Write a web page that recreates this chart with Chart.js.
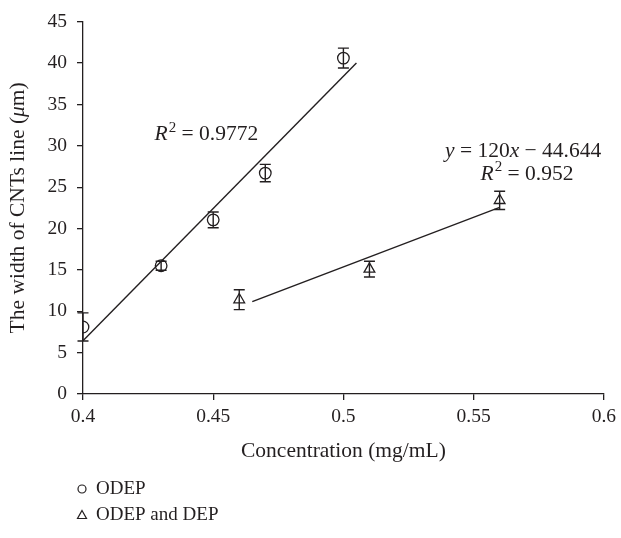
<!DOCTYPE html>
<html><head><meta charset="utf-8">
<script src="https://cdn.jsdelivr.net/npm/chart.js@4/dist/chart.umd.min.js"></script>
<style>html,body{margin:0;padding:0;background:#fff}canvas{display:block}</style>
</head><body>
<canvas id="c" width="621" height="538"></canvas>
<script>
// ---- data ----
const seriesNames = ['ODEP', 'ODEP and DEP'];
const odepX   = [0.40, 0.43, 0.45, 0.47, 0.50];
const odepY   = [8.1, 15.5, 21.05, 26.7, 40.6];
const odepErr = [1.7, 0.55, 0.95, 1.05, 1.2];
const bothX   = [0.46, 0.51, 0.56];
const bothY   = [11.4, 15.1, 23.4];
const bothErr = [1.2, 0.95, 1.1];
const trend1X = [0.40, 0.505];
const trend1Y = [6.43, 40.0];
const trend2X = [0.465, 0.56];
const trend2Y = [11.16, 22.56];
const xTicks  = [0.4, 0.45, 0.5, 0.55, 0.6];
const yTicks  = [0, 5, 10, 15, 20, 25, 30, 35, 40, 45];
const xTickLabels = ['0.4', '0.45', '0.5', '0.55', '0.6'];
const xTitle = 'Concentration (mg/mL)';

const INK = '#231f20';
const FONT = "'Liberation Serif', 'Times New Roman', serif";
const FS_TICK = 19.5;
const FS_TITLE = 21.5;
const FS_LEG = 19;

const pts = (xs, ys) => xs.map((x, i) => ({x, y: ys[i]}));

function richText(ctx, segs, x, y, align, fs) {
  const fnt = s => (s.it ? 'italic ' : '') + (s.sup ? Math.round(fs * 0.68) : fs) + 'px ' + FONT;
  const widths = segs.map(s => { ctx.font = fnt(s); return ctx.measureText(s.t).width + (s.sup ? 1 : 0); });
  const total = widths.reduce((a, b) => a + b, 0);
  let cx = align === 'center' ? x - total / 2 : x;
  segs.forEach((s, i) => {
    ctx.font = fnt(s);
    ctx.fillText(s.t, cx + (s.sup ? 1 : 0), s.sup ? y - fs * 0.3 : y);
    cx += widths[i];
  });
}

const errorBars = {
  id: 'errorBars',
  afterDatasetsDraw(chart) {
    const ctx = chart.ctx, xs = chart.scales.x, ys = chart.scales.y;
    const sets = [[odepX, odepY, odepErr], [bothX, bothY, bothErr]];
    ctx.save();
    ctx.strokeStyle = INK; ctx.lineWidth = 1.4;
    sets.forEach(([X, Y, E]) => {
      X.forEach((x, i) => {
        const px = xs.getPixelForValue(x);
        const t = ys.getPixelForValue(Y[i] + E[i]);
        const b = ys.getPixelForValue(Y[i] - E[i]);
        ctx.beginPath();
        ctx.moveTo(px, t); ctx.lineTo(px, b);
        ctx.moveTo(px - 5.5, t); ctx.lineTo(px + 5.5, t);
        ctx.moveTo(px - 5.5, b); ctx.lineTo(px + 5.5, b);
        ctx.stroke();
      });
    });
    ctx.restore();
  }
};

const texts = {
  id: 'texts',
  afterDraw(chart) {
    const ctx = chart.ctx, xs = chart.scales.x, ys = chart.scales.y, a = chart.chartArea;
    ctx.save();
    ctx.fillStyle = INK;
    ctx.textBaseline = 'middle';
    ctx.textAlign = 'left';
    // annotations
    richText(ctx, [{t: 'R', it: true}, {t: '2', sup: true}, {t: ' = 0.9772'}],
      xs.getPixelForValue(0.4275), ys.getPixelForValue(31.4), 'left', FS_TITLE);
    richText(ctx, [{t: 'y', it: true}, {t: ' = 120'}, {t: 'x', it: true}, {t: ' \u2212 44.644'}],
      xs.getPixelForValue(0.569), ys.getPixelForValue(29.3), 'center', FS_TITLE);
    richText(ctx, [{t: 'R', it: true}, {t: '2', sup: true}, {t: ' = 0.952'}],
      xs.getPixelForValue(0.5705), ys.getPixelForValue(26.6), 'center', FS_TITLE);
    // x title
    ctx.font = FS_TITLE + 'px ' + FONT;
    ctx.textAlign = 'center';
    ctx.fillText(xTitle, (a.left + a.right) / 2, 451);
    // y title (rotated)
    ctx.save();
    ctx.translate(18, (a.top + a.bottom) / 2);
    ctx.rotate(-Math.PI / 2);
    ctx.textAlign = 'left';
    richText(ctx, [{t: 'The width of CNTs line ('}, {t: '\u03bc', it: true}, {t: 'm)'}], 0, 0, 'center', FS_TITLE);
    ctx.restore();
    // legend
    ctx.font = FS_LEG + 'px ' + FONT;
    ctx.textAlign = 'left';
    ctx.strokeStyle = INK; ctx.lineWidth = 1.2;
    const lx = 82, ly1 = 489, ly2 = 515;
    ctx.beginPath(); ctx.arc(lx, ly1, 4, 0, Math.PI * 2); ctx.stroke();
    ctx.beginPath(); ctx.moveTo(lx, ly2 - 4.5); ctx.lineTo(lx + 4.5, ly2 + 3.5); ctx.lineTo(lx - 4.5, ly2 + 3.5); ctx.closePath(); ctx.stroke();
    ctx.fillText(seriesNames[0], 96, ly1);
    ctx.fillText(seriesNames[1], 96, ly2);
    ctx.restore();
  }
};

new Chart(document.getElementById('c'), {
  type: 'scatter',
  data: {
    datasets: [
      {label: seriesNames[0], data: pts(odepX, odepY), pointStyle: 'circle', pointRadius: 5.8,
       borderColor: INK, backgroundColor: 'rgba(0,0,0,0)', borderWidth: 1.3, showLine: false},
      {label: seriesNames[1], data: pts(bothX, bothY), pointStyle: 'triangle', pointRadius: 6.2,
       borderColor: INK, backgroundColor: 'rgba(0,0,0,0)', borderWidth: 1.3, showLine: false},
      {label: 'fit1', data: pts(trend1X, trend1Y), showLine: true, pointRadius: 0,
       borderColor: INK, borderWidth: 1.4, fill: false},
      {label: 'fit2', data: pts(trend2X, trend2Y), showLine: true, pointRadius: 0,
       borderColor: INK, borderWidth: 1.4, fill: false}
    ]
  },
  options: {
    responsive: false, animation: false, devicePixelRatio: 1,
    layout: {padding: {left: 0, right: 16, top: 16, bottom: 0}},
    plugins: {legend: {display: false}, tooltip: {enabled: false}},
    scales: {
      x: {
        type: 'linear', min: xTicks[0], max: xTicks[xTicks.length - 1],
        afterBuildTicks: s => { s.ticks = xTicks.map(v => ({value: v})); },
        afterFit: s => { s.height = 144; },
        ticks: {color: INK, font: {family: FONT, size: FS_TICK}, padding: 5, maxRotation: 0,
                callback: (v) => xTickLabels[xTicks.indexOf(+v.toFixed(2))] ?? ''},
        grid: {drawOnChartArea: false, drawTicks: true, tickLength: 6, color: INK, lineWidth: 1.3},
        border: {display: true, color: INK, width: 1.3}
      },
      y: {
        type: 'linear', min: yTicks[0], max: yTicks[yTicks.length - 1],
        afterBuildTicks: s => { s.ticks = yTicks.map(v => ({value: v})); },
        afterFit: s => { s.width = 83; },
        ticks: {color: INK, font: {family: FONT, size: FS_TICK}, padding: 10},
        grid: {drawOnChartArea: false, drawTicks: true, tickLength: 6, color: INK, lineWidth: 1.3},
        border: {display: true, color: INK, width: 1.3}
      }
    }
  },
  plugins: [errorBars, texts]
});
</script>
</body></html>
